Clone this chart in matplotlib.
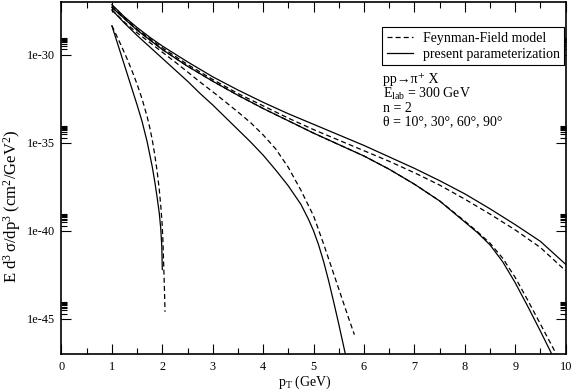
import numpy as np
import matplotlib
matplotlib.use('Agg')
import matplotlib.pyplot as plt

plt.rcParams['font.family'] = ['Liberation Serif', 'DejaVu Serif']
plt.rcParams['mathtext.fontset'] = 'custom'
plt.rcParams['mathtext.rm'] = 'Liberation Serif'
plt.rcParams['mathtext.it'] = 'Liberation Serif'
plt.rcParams['mathtext.default'] = 'regular'

# ---------------------------------------------------------------
# values: pT (GeV) and log10 of E d3sigma/dp3
pt_10_ff = [1.0, 1.1, 1.2, 1.3, 1.4, 1.5, 1.6, 1.7, 1.75, 1.8, 1.85, 1.9, 1.94, 1.97, 1.994, 2.01, 2.02, 2.035, 2.045, 2.054]
lg_10_ff = [-28.35, -28.95, -29.57, -30.22, -30.92, -31.67, -32.52, -33.52, -34.12, -34.82, -35.67, -36.67,
            -37.67, -38.6, -39.5, -40.4, -41.3, -42.6, -43.6, -44.6]
pt_10_pp = [1.0, 1.1, 1.2, 1.3, 1.4, 1.5, 1.6, 1.7, 1.8, 1.85, 1.9, 1.94, 1.97, 1.99, 2.0]
lg_10_pp = [-28.35, -29.25, -30.15, -31.05, -31.95, -32.85, -33.8, -34.95, -36.35, -37.2, -38.15, -39.0, -39.9, -40.9, -42.2]

pt_30_ff = [1.0, 1.25, 1.5, 1.75, 2.0, 2.25, 2.5, 2.75, 3.0, 3.25, 3.5, 3.75, 4.0, 4.25, 4.5, 4.75,
            5.0, 5.1, 5.2, 5.3, 5.4, 5.5, 5.6, 5.7, 5.81]
lg_30_ff = [-27.45, -28.15, -28.75, -29.3, -29.85, -30.4, -30.97, -31.55, -32.1, -32.67, -33.25, -33.85,
            -34.55, -35.35, -36.4, -37.7, -39.15, -39.95, -40.75, -41.6, -42.45, -43.3, -44.15, -45.0, -45.9]
pt_30_pp = [1.0, 1.25, 1.5, 1.75, 2.0, 2.25, 2.5, 2.75, 3.0, 3.25, 3.5, 3.75, 4.0, 4.25, 4.5, 4.75,
            4.9, 5.0, 5.1, 5.2, 5.3, 5.4, 5.5, 5.6, 5.7]
lg_30_pp = [-27.45, -28.2, -28.9, -29.55, -30.2, -30.85, -31.5, -32.2, -32.85, -33.55, -34.25, -34.95,
            -35.7, -36.55, -37.45, -38.5, -39.35, -40.0, -40.8, -41.75, -42.85, -44.05, -45.3, -46.6, -47.9]

pt_60_ff = [1.0, 1.5, 2.0, 2.5, 3.0, 3.5, 4.0, 4.5, 5.0, 5.5, 6.0, 6.5, 7.0, 7.5, 8.0, 8.25,
            8.5, 8.75, 9.0, 9.25, 9.5, 9.75, 9.85]
lg_60_ff = [-27.3, -28.6, -29.7, -30.65, -31.5, -32.3, -33.05, -33.75, -34.45, -35.1, -35.75, -36.5,
            -37.35, -38.3, -39.45, -40.05, -40.7, -41.55, -42.65, -43.95, -45.3, -46.65, -47.2]
pt_60_pp = [1.0, 1.5, 2.0, 2.5, 3.0, 3.5, 4.0, 4.5, 5.0, 5.5, 6.0, 6.5, 7.0, 7.5, 8.0, 8.25,
            8.5, 8.75, 9.0, 9.25, 9.5, 9.75, 9.8]
lg_60_pp = [-27.3, -28.6, -29.7, -30.65, -31.5, -32.3, -33.05, -33.75, -34.45, -35.1, -35.75, -36.5,
            -37.35, -38.3, -39.5, -40.1, -40.8, -41.75, -42.95, -44.3, -45.7, -47.15, -47.45]

pt_90_ff = [1.0, 1.5, 2.0, 2.5, 3.0, 3.5, 4.0, 4.5, 5.0, 5.5, 6.0, 6.5, 7.0, 7.5, 8.0, 8.5, 9.0, 9.5, 10.0]
lg_90_ff = [-27.2, -28.55, -29.6, -30.55, -31.4, -32.2, -32.9, -33.6, -34.25, -34.85, -35.45, -36.05,
            -36.7, -37.4, -38.2, -39.05, -39.95, -40.95, -42.27]
pt_90_pp = [1.0, 1.25, 1.5, 1.75, 2.0, 2.5, 3.0, 3.5, 4.0, 4.5, 5.0, 5.5, 6.0, 6.5, 7.0, 7.5, 8.0, 8.5, 9.0, 9.5, 10.0]
lg_90_pp = [-27.15, -27.85, -28.45, -29.0, -29.5, -30.4, -31.25, -32.0, -32.7, -33.35, -33.95, -34.55,
            -35.15, -35.8, -36.45, -37.15, -37.9, -38.75, -39.65, -40.6, -41.9]

ytick_vals = [1e-45, 1e-40, 1e-35, 1e-30]
ytick_text = ['1e-45', '1e-40', '1e-35', '1e-30']

legend_text = ['Feynman-Field model', 'present parameterization']
note_lines = ['pp\u2192\u03c0\u207a X', 'E$_{lab}$ = 300 GeV', 'n = 2',
              '\u03b8 = 10\u00b0, 30\u00b0, 60\u00b0, 90\u00b0']

# ---------------------------------------------------------------
fig = plt.figure(figsize=(5.74, 3.91), dpi=100)
ax = fig.add_axes([0.1071, 0.0946, 0.8783, 0.9003])

ff_style = dict(color='black', lw=0.9, ls=(0, (4.0, 2.5)))
pp_style = dict(color='black', lw=0.9, ls='-')

ff_sets = [(pt_10_ff, lg_10_ff), (pt_30_ff, lg_30_ff), (pt_60_ff, lg_60_ff), (pt_90_ff, lg_90_ff)]
pp_sets = [(pt_10_pp, lg_10_pp), (pt_30_pp, lg_30_pp), (pt_60_pp, lg_60_pp), (pt_90_pp, lg_90_pp)]
for n, (p, l) in enumerate(ff_sets):
    ax.plot(p, 10.0**np.array(l), label=legend_text[0] if n == 0 else None, **ff_style)
for n, (p, l) in enumerate(pp_sets):
    ax.plot(p, 10.0**np.array(l), label=legend_text[1] if n == 0 else None, **pp_style)

ax.set_yscale('log')
ax.set_xlim(0, 10)
ax.set_ylim(1e-47, 1e-27)

ax.set_xticks(np.arange(0, 11, 1))
ax.set_xticks(np.arange(0.5, 10, 1), minor=True)
ax.set_yticks(ytick_vals)
ax.set_yticklabels(ytick_text)
ax.set_yticks([k*v for v in ytick_vals for k in range(2, 10)], minor=True)
ax.yaxis.set_minor_formatter(matplotlib.ticker.NullFormatter())

ax.tick_params(which='both', direction='in', top=True, right=True, labelsize=8.8, colors='black')
ax.tick_params(which='major', length=7, width=0.8, pad=5)
ax.tick_params(which='minor', length=4, width=0.8)
for s in ax.spines.values():
    s.set_linewidth(1.2)

leg = ax.legend(loc='upper right', bbox_to_anchor=(0.9965, 0.928), fontsize=10, frameon=True,
                fancybox=False, edgecolor='black', framealpha=1, handlelength=1.9,
                handletextpad=0.7, borderpad=0.3, labelspacing=0.25, borderaxespad=0)
leg.get_frame().set_linewidth(0.8)

for i, t in enumerate(note_lines):
    fig.text(383/574, 1 - (80 + i*14)/391, t, fontsize=10, va='center', ha='left')

fig.text(305/574, 1 - 382/391, r'p$_T$ (GeV)', fontsize=10, ha='center', va='center')
fig.text(12/574, 1 - 206/391, r'E d$^{3}\,\sigma$/dp$^{3}$ (cm$^{2}$/GeV$^{2}$)', fontsize=12,
         rotation=90, ha='center', va='center')

fig.savefig('out.png', dpi=100)
